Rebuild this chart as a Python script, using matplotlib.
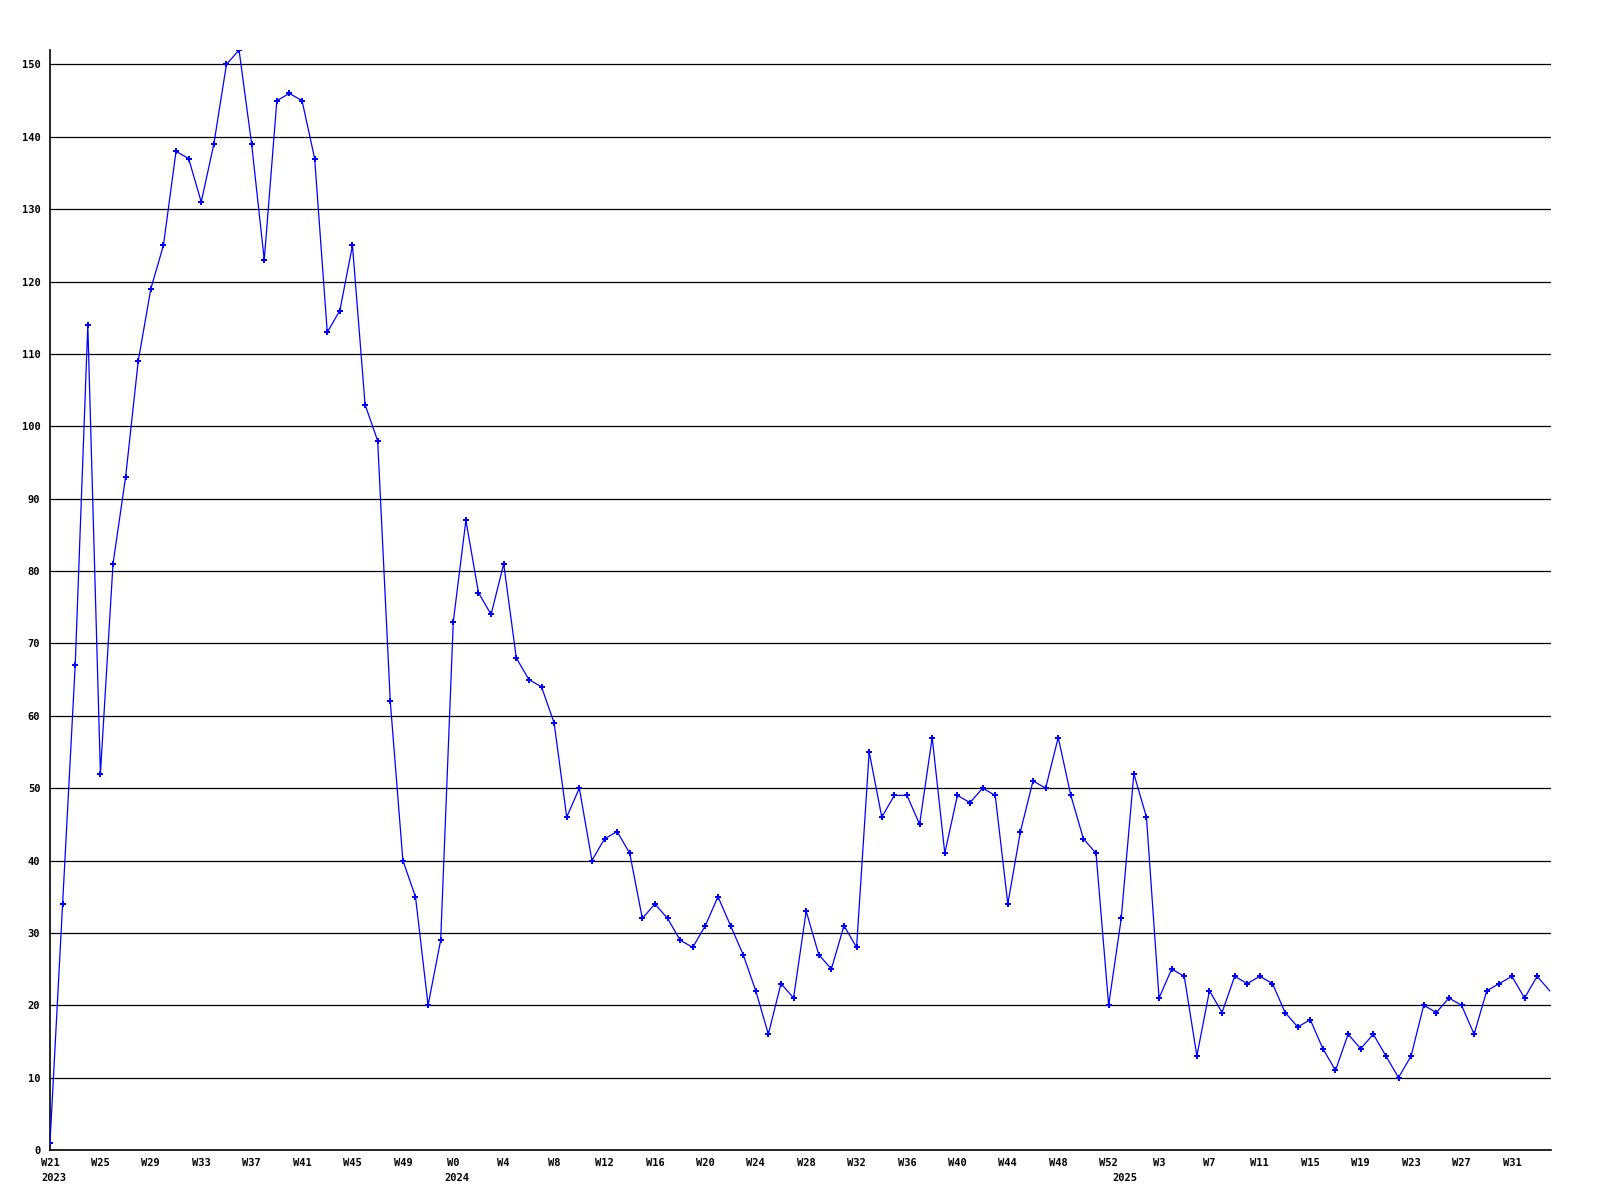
import matplotlib
matplotlib.use("Agg")
from matplotlib import pyplot as plt
from matplotlib import transforms

# weekly counts, W21 2023 onwards
counts = [1, 34, 67, 114, 52, 81, 93, 109, 119, 125,
          138, 137, 131, 139, 150, 152, 139, 123, 145, 146,
          145, 137, 113, 116, 125, 103, 98, 62, 40, 35,
          20, 29, 73, 87, 77, 74, 81, 68, 65, 64,
          59, 46, 50, 40, 43, 44, 41, 32, 34, 32,
          29, 28, 31, 35, 31, 27, 22, 16, 23, 21,
          33, 27, 25, 31, 28, 55, 46, 49, 49, 45,
          57, 41, 49, 48, 50, 49, 34, 44, 51, 50,
          57, 49, 43, 41, 20, 32, 52, 46, 21, 25,
          24, 13, 22, 19, 24, 23, 24, 23, 19, 17,
          18, 14, 11, 16, 14, 16, 13, 10, 13, 20,
          19, 21, 20, 16, 22, 23, 24, 21, 24, 22]

week_labels = ["W21", "W25", "W29", "W33", "W37", "W41", "W45", "W49",
               "W0", "W4", "W8", "W12", "W16", "W20", "W24", "W28",
               "W32", "W36", "W40", "W44", "W48", "W52",
               "W3", "W7", "W11", "W15", "W19", "W23", "W27", "W31"]
years = ["2023", "2024", "2025"]
year_start = [0, 32, 85]   # index of first week of each year

font = {"family": "DejaVu Sans Mono", "weight": "bold", "size": 7.5}

fig = plt.figure(figsize=(16, 12), dpi=100)
ax = fig.add_axes([50 / 1600, 50 / 1200, 1501 / 1600, 1100 / 1200])

x = list(range(len(counts)))
ax.plot(x, counts, color="#0000ff", linewidth=0.9, marker="P", markersize=5,
        markeredgewidth=0, markevery=slice(0, len(counts) - 1), zorder=3)

ax.set_xlim(0, 119.1)
ax.set_ylim(0, 152)

# horizontal grid lines
yt = list(range(0, 160, 10))
for v in yt[1:]:
    ax.axhline(v, color="black", linewidth=0.9, zorder=1)
ax.set_yticks(yt)
ax.set_yticklabels([str(v) for v in yt], fontdict=font)

ax.set_xticks(range(0, 4 * len(week_labels), 4))
ax.set_xticklabels(week_labels, fontdict=font)
ax.tick_params(axis="both", length=0, colors="black")
ax.tick_params(axis="x", pad=6)
ax.tick_params(axis="y", pad=7)

for s in ["top", "right"]:
    ax.spines[s].set_visible(False)
for s in ["left", "bottom"]:
    ax.spines[s].set_color("black")
    ax.spines[s].set_linewidth(1.2)

trans = transforms.blended_transform_factory(ax.transData, fig.transFigure)
for yr, i in zip(years, year_start):
    ax.text(i + 0.3, 1 - 1173 / 1200, yr, transform=trans, ha="center",
            va="top", **font)

fig.savefig("out.png", dpi=100, facecolor="white")
